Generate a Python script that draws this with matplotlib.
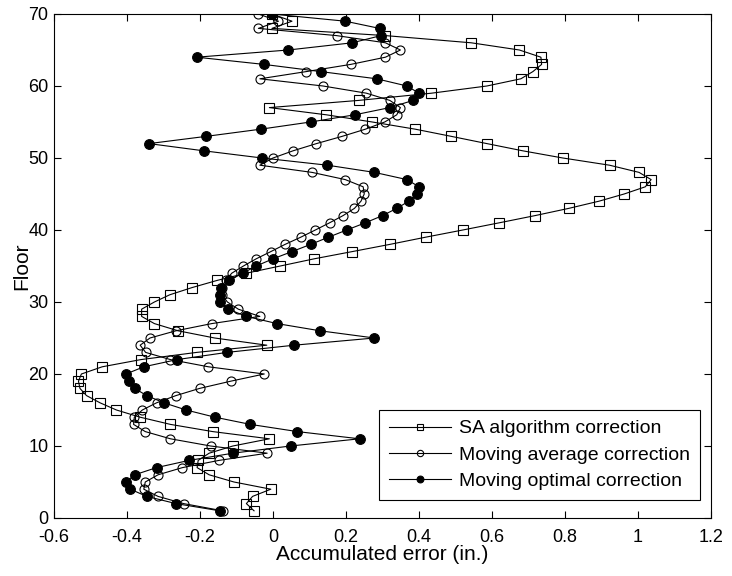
import numpy as np
import matplotlib.pyplot as plt

plt.rcParams['font.family'] = ['Liberation Sans', 'DejaVu Sans']

# Floors 1..70
floors = np.arange(1, 71)

# Accumulated error (in.) per floor
sa_err = [-0.052, -0.073, -0.056, -0.006, -0.107, -0.175, -0.208, -0.205, -0.175, -0.110,
          -0.010, -0.165, -0.281, -0.364, -0.429, -0.474, -0.511, -0.529, -0.533, -0.525,
          -0.468, -0.362, -0.209, -0.017, -0.160, -0.260, -0.325, -0.360, -0.360, -0.325,
          -0.283, -0.222, -0.153, -0.073, 0.020, 0.113, 0.217, 0.320, 0.418, 0.520,
          0.620, 0.718, 0.810, 0.893, 0.962, 1.020, 1.036, 1.003, 0.922, 0.794,
          0.684, 0.586, 0.489, 0.390, 0.272, 0.146, -0.010, 0.235, 0.434, 0.586,
          0.679, 0.712, 0.736, 0.734, 0.675, 0.543, 0.308, -0.003, 0.052, -0.003]

ma_err = [-0.138, -0.245, -0.315, -0.354, -0.350, -0.315, -0.248, -0.148, -0.016, -0.171,
          -0.281, -0.350, -0.382, -0.380, -0.358, -0.319, -0.266, -0.201, -0.116, -0.024,
          -0.177, -0.281, -0.349, -0.364, -0.337, -0.266, -0.168, -0.036, -0.095, -0.125,
          -0.140, -0.140, -0.130, -0.113, -0.081, -0.046, -0.006, 0.033, 0.076, 0.116,
          0.155, 0.192, 0.223, 0.241, 0.250, 0.247, 0.198, 0.107, -0.036, 0.000,
          0.055, 0.119, 0.189, 0.253, 0.306, 0.339, 0.349, 0.320, 0.256, 0.137,
          -0.036, 0.091, 0.213, 0.308, 0.349, 0.308, 0.174, -0.040, 0.015, -0.040]

mo_err = [-0.146, -0.266, -0.346, -0.391, -0.403, -0.379, -0.319, -0.230, -0.110, 0.048,
          0.237, 0.067, -0.062, -0.159, -0.238, -0.299, -0.346, -0.379, -0.395, -0.403,
          -0.354, -0.263, -0.126, 0.058, 0.278, 0.129, 0.011, -0.073, -0.123, -0.144,
          -0.146, -0.142, -0.120, -0.083, -0.046, 0.000, 0.052, 0.103, 0.152, 0.202,
          0.253, 0.300, 0.339, 0.372, 0.394, 0.400, 0.367, 0.278, 0.149, -0.030,
          -0.190, -0.340, -0.184, -0.034, 0.103, 0.224, 0.320, 0.384, 0.400, 0.367,
          0.284, 0.131, -0.025, -0.209, 0.042, 0.217, 0.296, 0.292, 0.198, -0.003]

labels = ["SA algorithm correction", "Moving average correction", "Moving optimal correction"]

fig = plt.figure(figsize=(7.32, 5.76), dpi=100)
ax = fig.add_axes([0.0738, 0.1007, 0.8975, 0.875])

ax.plot(sa_err, floors, color="k", lw=0.8, marker="s", ms=6.5, mfc="none", mec="k", mew=0.8,
        label=labels[0])
ax.plot(ma_err, floors, color="k", lw=0.8, marker="o", ms=6.5, mfc="none", mec="k", mew=0.8,
        label=labels[1])
ax.plot(mo_err, floors, color="k", lw=0.8, marker="o", ms=7, mfc="k", mec="k", mew=0.8,
        label=labels[2])

ax.set_xlim(-0.6, 1.2)
ax.set_ylim(0, 70)
ax.set_xticks(np.arange(-0.6, 1.21, 0.2))
ax.set_xticklabels(["-0.6", "-0.4", "-0.2", "0", "0.2", "0.4", "0.6", "0.8", "1", "1.2"])
ax.set_yticks(np.arange(0, 71, 10))
ax.tick_params(direction="in", top=True, right=True, length=5, width=0.8, labelsize=13)
ax.tick_params(axis="x", pad=8)
ax.tick_params(axis="y", pad=4)
for s in ax.spines.values():
    s.set_linewidth(0.8)

ax.set_xlabel("Accumulated error (in.)", fontsize=15, labelpad=-1)
ax.set_ylabel("Floor", fontsize=15, labelpad=-2)

leg = ax.legend(loc="lower right", bbox_to_anchor=(0.983, 0.036), fontsize=14,
                handlelength=3.2, markerscale=0.7, fancybox=False, framealpha=1,
                edgecolor="k", borderpad=0.5, labelspacing=0.45, handletextpad=0.4,
                borderaxespad=0)
leg.get_frame().set_linewidth(0.8)

plt.savefig("out.png", dpi=100)
plt.close("all")
